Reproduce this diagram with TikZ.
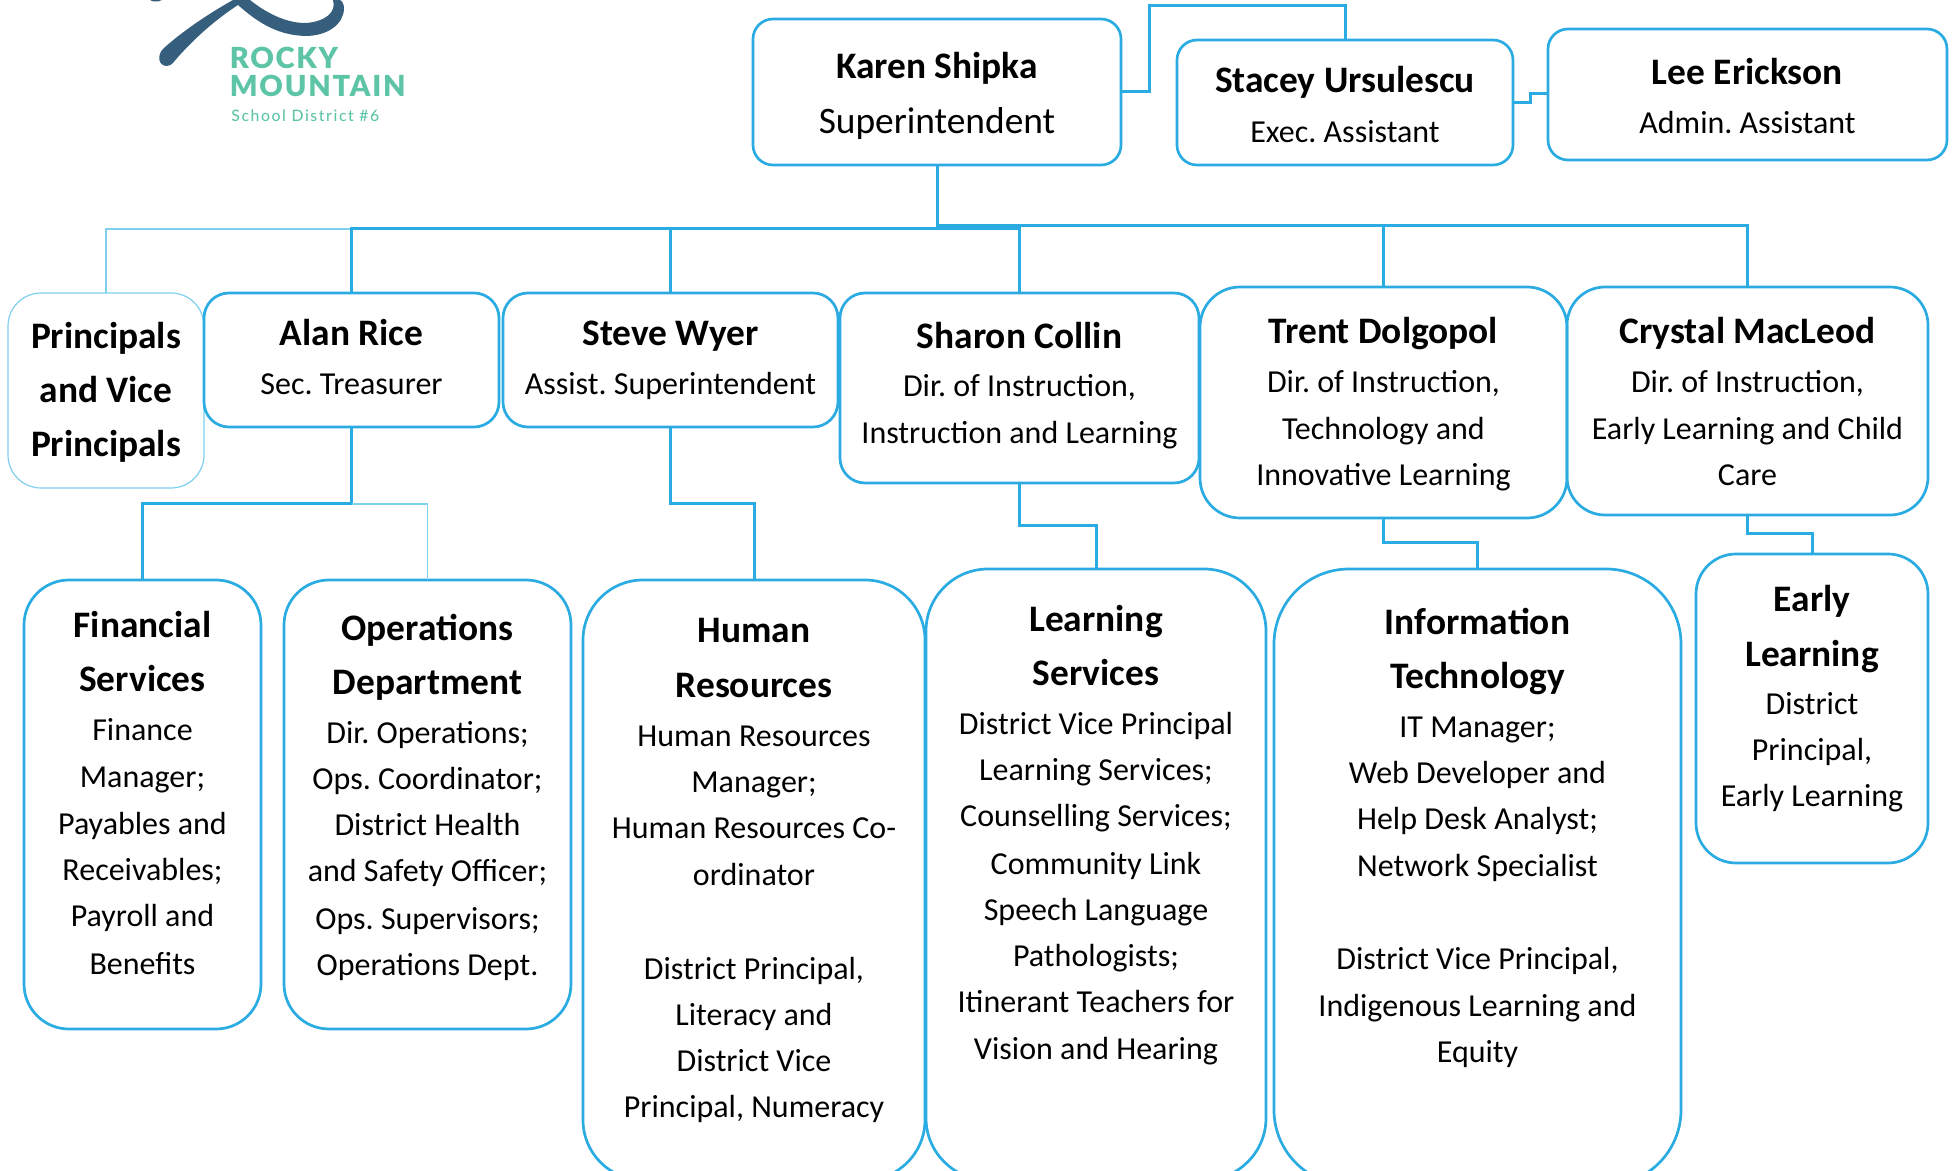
\documentclass[tikz,border=0pt]{standalone}
\usepackage{fontspec}
\setmainfont{Carlito}
\newfontfamily\logoA[LetterSpace=6.0]{Lato Black}
\newfontfamily\logoB[LetterSpace=10]{Lato Medium}
\definecolor{cy}{HTML}{2AABE2}
\definecolor{cyl}{HTML}{7FCFEE}
\definecolor{navy}{HTML}{365E7D}
\definecolor{mint}{HTML}{5EC4A6}
\newdimen\curY
\newcommand\rline[3]{\dimen0=#1\dimexpr 0.5pt\relax \advance\dimen0 -\curY \global\curY=#1\dimexpr 0.5pt\relax
  \vbox to \dimen0{\vss\hbox to \hsize{\hss\smash{#2#3}\hss}}}
\newcommand\nameL[2]{\rline{\the\numexpr#1+1\relax}{\fontsize{18.7}{20}\selectfont\bfseries}{#2}}
\newcommand\bodyL[2]{\rline{\the\numexpr#1+2\relax}{\fontsize{16}{18}\selectfont}{#2}}
\newcommand\bigL[2]{\rline{\the\numexpr#1+1\relax}{\fontsize{18.7}{20}\selectfont}{#2}}
\tikzset{
  box/.style={draw=cy,line width=1.35pt,inner sep=0pt,outer sep=0pt,rectangle},
  thinbox/.style={box,draw=cyl,line width=0.6pt},
  rad/.style={rounded corners=#1*0.5pt},
  conn/.style={draw=cy,line width=1.5pt},
  connthin/.style={draw=cyl,line width=0.7pt},
}
\newcommand\bx[7][]{%
  \pgfmathsetmacro\bxw{(#5-#3)*0.5}%
  \pgfmathsetmacro\bxh{(#6-#4)*0.5}%
  \pgfmathsetmacro\bxcx{(#3+#5)/2}%
  \pgfmathsetmacro\bxcy{(#4+#6)/2}%
  \node[box,#1,minimum width=\bxw pt,minimum height=\bxh pt] (#2) at (\bxcx,\bxcy)
    {\vbox to \bxh pt{\hsize=\bxw pt \offinterlineskip \frenchspacing \global\curY=#4\dimexpr 0.5pt\relax #7\vss}};%
}
\begin{document}
\begin{tikzpicture}[x=0.5pt,y=-0.5pt]
\useasboundingbox (0,0) rectangle (1956,1171);
\clip (0,0) rectangle (1956,1171);
% logo
\fill[navy] (233,0) .. controls (208,14) and (180,33) .. (163,49) .. controls (157,55) and (158,66) .. (167,66) .. controls (172,66) and (175,60) .. (178,57) .. controls (195,38) and (215,20) .. (238,5) .. controls (255,20) and (275,35) .. (305,36) .. controls (328,36) and (344,24) .. (344,8) .. controls (344,4) and (342,1) .. (340,0) -- (333,0) .. controls (337,12) and (325,22) .. (305,23) .. controls (285,23) and (265,12) .. (250,0) -- cycle;
\fill[navy] (150,0) -- (162,0) -- (158,1.5) -- (153,1.5) -- cycle;
\node[anchor=base west,inner sep=0pt,text=mint,font=\logoA\fontsize{14.5}{16}\selectfont] (rocky) at (229.5,69) {ROCKY};
\node[anchor=base west,inner sep=0pt,text=mint,font=\logoA\fontsize{14.5}{16}\selectfont] (mountain) at (229.5,97) {MOUNTAIN};
\node[anchor=base west,inner sep=0pt,text=mint,font=\logoB\fontsize{7.9}{9}\selectfont] (sd) at (231,122) {School District \#6};
% top row
\bx[rad=20]{karen}{753}{19}{1121}{165}{\nameL{78}{Karen Shipka}\bigL{133}{Superintendent}}
\bx[rad=20]{stacey}{1177}{40}{1513}{165}{\nameL{92}{Stacey Ursulescu}\bodyL{141}{Exec. Assistant}}
\bx[rad=20]{lee}{1548}{29}{1947}{160}{\nameL{84}{Lee Erickson}\bodyL{132}{Admin. Assistant}}
% second row
\bx[thinbox,rad=33]{prin}{8}{293}{204}{488}{\nameL{347}{Principals}\nameL{401}{and Vice}\nameL{456}{Principals}}
\bx[rad=25]{alan}{204}{293}{499}{427}{\nameL{345}{Alan Rice}\bodyL{393}{Sec. Treasurer}}
\bx[rad=25]{steve}{503}{293}{838}{427}{\nameL{345}{Steve Wyer}\bodyL{393}{Assist. Superintendent}}
\bx[rad=25]{sharon}{840}{293}{1199}{483}{\nameL{348}{Sharon Collin}\bodyL{395}{Dir. of Instruction,}\bodyL{442}{Instruction and Learning}}
\bx[rad=40]{trent}{1200}{287}{1567}{518}{\nameL{342}{Trent Dolgopol}\bodyL{391}{Dir. of Instruction,}\bodyL{437}{Technology and}\bodyL{484}{Innovative Learning}}
\bx[rad=38]{crystal}{1567}{287}{1928}{515}{\nameL{343}{Crystal MacLeod}\bodyL{391}{Dir. of Instruction,}\bodyL{438}{Early Learning and Child}\bodyL{484}{Care}}
% third row
\bx[rad=45]{fin}{24}{580}{261}{1029}{\nameL{636}{Financial}\nameL{690}{Services}\bodyL{738}{Finance}\bodyL{785}{Manager;}\bodyL{832}{Payables and}\bodyL{878}{Receivables;}\bodyL{924}{Payroll and}\bodyL{972}{Benefits}}
\bx[rad=45]{ops}{284}{580}{571}{1029}{\nameL{639}{Operations}\nameL{693}{Department}\bodyL{741}{Dir. Operations;}\bodyL{787}{Ops. Coordinator;}\bodyL{833}{District Health}\bodyL{879}{and Safety Officer;}\bodyL{927}{Ops. Supervisors;}\bodyL{973}{Operations Dept.}}
\bx[rad=60]{hr}{583}{580}{925}{1180}{\nameL{641}{Human}\nameL{696}{Resources}\bodyL{744}{Human Resources}\bodyL{790}{Manager;}\bodyL{836}{Human Resources Co-}\bodyL{883}{ordinator}\bodyL{977}{District Principal,}\bodyL{1023}{Literacy and}\bodyL{1069}{District Vice}\bodyL{1115}{Principal, Numeracy}}
\bx[rad=62]{learn}{926}{569}{1266}{1180}{\nameL{630}{Learning}\nameL{684}{Services}\bodyL{732}{District Vice Principal}\bodyL{778}{Learning Services;}\bodyL{824}{Counselling Services;}\bodyL{872}{Community Link}\bodyL{918}{Speech Language}\bodyL{964}{Pathologists;}\bodyL{1010}{Itinerant Teachers for}\bodyL{1057}{Vision and Hearing}}
\bx[rad=75]{it}{1274}{569}{1681}{1185}{\nameL{633}{Information}\nameL{687}{Technology}\bodyL{735}{IT Manager;}\bodyL{781}{Web Developer and}\bodyL{827}{Help Desk Analyst;}\bodyL{874}{Network Specialist}\bodyL{967}{District Vice Principal,}\bodyL{1014}{Indigenous Learning and}\bodyL{1060}{Equity}}
\bx[rad=40]{early}{1696}{554}{1928}{863}{\nameL{610}{Early}\nameL{665}{Learning}\bodyL{712}{District}\bodyL{758}{Principal,}\bodyL{804}{Early Learning}}
% connectors
\coordinate (busA) at (937,229);
\coordinate (busB) at (937,226);
\draw[conn] (karen.east) -- ++(28,0) |- (1149,6) -| (stacey.north);
\draw[conn] (stacey.east) -- ++(17,0) |- (1530,94) -- (lee.west |- 1530,94);
\draw[conn] (karen.south) -- (busA);
\draw[connthin] (prin.north) |- (alan.north |- busA);
\draw[conn] (alan.north) |- (busA);
\draw[conn] (steve.north) |- (busA);
\draw[conn] (sharon.north) |- (busA);
\draw[conn] (trent.north) |- (busB);
\draw[conn] (crystal.north) |- (busB);
\coordinate (j1) at (351.5,504);
\draw[conn] (alan.south) -- (j1) -| (fin.north);
\draw[connthin] (j1) -| (ops.north);
\coordinate (j2) at (670.5,504);
\draw[conn] (steve.south) -- (j2) -| (hr.north);
\coordinate (j3) at (1019.5,526);
\draw[conn] (sharon.south) -- (j3) -| (learn.north);
\coordinate (j4) at (1383.5,543);
\draw[conn] (trent.south) -- (j4) -| (it.north);
\coordinate (j5) at (1747.5,534);
\draw[conn] (crystal.south) -- (j5) -| (early.north);
\end{tikzpicture}
\end{document}
